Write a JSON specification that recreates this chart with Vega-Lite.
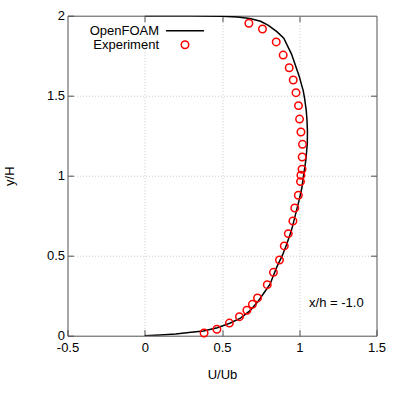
{
  "$schema": "https://vega.github.io/schema/vega-lite/v6.json",
  "autosize": "none",
  "padding": {"left": 67.5, "top": 15.7, "right": 23.5, "bottom": 64.3},
  "width": 309,
  "height": 320,
  "datasets": {
    "foam": [
      {"x": 0.0, "y": 0.0, "series": "OpenFOAM"},
      {"x": 0.1, "y": 0.004, "series": "OpenFOAM"},
      {"x": 0.2, "y": 0.01, "series": "OpenFOAM"},
      {"x": 0.3, "y": 0.021, "series": "OpenFOAM"},
      {"x": 0.38, "y": 0.03, "series": "OpenFOAM"},
      {"x": 0.47, "y": 0.05, "series": "OpenFOAM"},
      {"x": 0.55, "y": 0.078, "series": "OpenFOAM"},
      {"x": 0.62, "y": 0.11, "series": "OpenFOAM"},
      {"x": 0.68, "y": 0.155, "series": "OpenFOAM"},
      {"x": 0.73, "y": 0.21, "series": "OpenFOAM"},
      {"x": 0.77, "y": 0.265, "series": "OpenFOAM"},
      {"x": 0.81, "y": 0.32, "series": "OpenFOAM"},
      {"x": 0.855, "y": 0.43, "series": "OpenFOAM"},
      {"x": 0.89, "y": 0.5, "series": "OpenFOAM"},
      {"x": 0.92, "y": 0.575, "series": "OpenFOAM"},
      {"x": 0.95, "y": 0.66, "series": "OpenFOAM"},
      {"x": 0.975, "y": 0.755, "series": "OpenFOAM"},
      {"x": 1.0, "y": 0.85, "series": "OpenFOAM"},
      {"x": 1.016, "y": 0.92, "series": "OpenFOAM"},
      {"x": 1.028, "y": 1.0, "series": "OpenFOAM"},
      {"x": 1.043, "y": 1.1, "series": "OpenFOAM"},
      {"x": 1.052, "y": 1.2, "series": "OpenFOAM"},
      {"x": 1.053, "y": 1.28, "series": "OpenFOAM"},
      {"x": 1.05, "y": 1.35, "series": "OpenFOAM"},
      {"x": 1.045, "y": 1.41, "series": "OpenFOAM"},
      {"x": 1.035, "y": 1.48, "series": "OpenFOAM"},
      {"x": 1.026, "y": 1.53, "series": "OpenFOAM"},
      {"x": 1.0, "y": 1.62, "series": "OpenFOAM"},
      {"x": 0.975, "y": 1.69, "series": "OpenFOAM"},
      {"x": 0.95, "y": 1.76, "series": "OpenFOAM"},
      {"x": 0.9, "y": 1.86, "series": "OpenFOAM"},
      {"x": 0.855, "y": 1.9, "series": "OpenFOAM"},
      {"x": 0.8, "y": 1.94, "series": "OpenFOAM"},
      {"x": 0.75, "y": 1.965, "series": "OpenFOAM"},
      {"x": 0.68, "y": 1.983, "series": "OpenFOAM"},
      {"x": 0.6, "y": 1.992, "series": "OpenFOAM"},
      {"x": 0.5, "y": 1.997, "series": "OpenFOAM"},
      {"x": 0.3, "y": 1.999, "series": "OpenFOAM"},
      {"x": 0.0, "y": 2.0, "series": "OpenFOAM"}
    ],
    "exp": [
      {"x": 0.384, "y": 0.017, "series": "Experiment"},
      {"x": 0.467, "y": 0.040, "series": "Experiment"},
      {"x": 0.548, "y": 0.079, "series": "Experiment"},
      {"x": 0.613, "y": 0.119, "series": "Experiment"},
      {"x": 0.661, "y": 0.159, "series": "Experiment"},
      {"x": 0.697, "y": 0.196, "series": "Experiment"},
      {"x": 0.730, "y": 0.236, "series": "Experiment"},
      {"x": 0.793, "y": 0.319, "series": "Experiment"},
      {"x": 0.833, "y": 0.396, "series": "Experiment"},
      {"x": 0.872, "y": 0.473, "series": "Experiment"},
      {"x": 0.903, "y": 0.561, "series": "Experiment"},
      {"x": 0.929, "y": 0.638, "series": "Experiment"},
      {"x": 0.959, "y": 0.717, "series": "Experiment"},
      {"x": 0.971, "y": 0.798, "series": "Experiment"},
      {"x": 0.994, "y": 0.878, "series": "Experiment"},
      {"x": 1.008, "y": 0.963, "series": "Experiment"},
      {"x": 1.011, "y": 1.003, "series": "Experiment"},
      {"x": 1.018, "y": 1.040, "series": "Experiment"},
      {"x": 1.019, "y": 1.117, "series": "Experiment"},
      {"x": 1.021, "y": 1.196, "series": "Experiment"},
      {"x": 1.011, "y": 1.273, "series": "Experiment"},
      {"x": 1.002, "y": 1.354, "series": "Experiment"},
      {"x": 0.995, "y": 1.438, "series": "Experiment"},
      {"x": 0.979, "y": 1.519, "series": "Experiment"},
      {"x": 0.961, "y": 1.598, "series": "Experiment"},
      {"x": 0.935, "y": 1.675, "series": "Experiment"},
      {"x": 0.896, "y": 1.754, "series": "Experiment"},
      {"x": 0.851, "y": 1.836, "series": "Experiment"},
      {"x": 0.762, "y": 1.917, "series": "Experiment"},
      {"x": 0.674, "y": 1.953, "series": "Experiment"}
    ]
  },
  "layer": [
    {
      "data": {"name": "foam"},
      "mark": {"type": "line", "strokeWidth": 1.5, "clip": true},
      "encoding": {
        "x": {
          "field": "x", "type": "quantitative",
          "scale": {"domain": [-0.5, 1.5], "nice": false, "zero": false},
          "axis": {
            "values": [-0.5, 0, 0.5, 1, 1.5],
            "labelExpr": "replace(format(datum.value, '~g'), '\u2212', '-')",
            "title": "U/Ub",
            "titlePadding": 14,
            "grid": true,
            "gridColor": {"condition": {"test": "datum.value == -0.5 || datum.value == 1.5", "value": "transparent"}, "value": "#c8c8c8"},
            "labelPadding": 12
          }
        },
        "y": {
          "field": "y", "type": "quantitative",
          "scale": {"domain": [0, 2], "nice": false},
          "axis": {
            "values": [0, 0.5, 1, 1.5, 2],
            "labelExpr": "format(datum.value, '~g')",
            "title": "y/H",
            "titlePadding": 30,
            "grid": true,
            "gridColor": {"condition": {"test": "datum.value == 0 || datum.value == 2", "value": "transparent"}, "value": "#c8c8c8"},
            "labelPadding": 9
          }
        },
        "order": {"field": "y", "type": "quantitative"},
        "color": {
          "field": "series", "type": "nominal",
          "scale": {"domain": ["OpenFOAM", "Experiment"], "range": ["#000000", "#ff0000"]},
          "legend": {
            "title": null,
            "orient": "none",
            "legendX": 111,
            "legendY": 8.5,
            "labelAlign": "right",
            "labelOffset": -32.5,
            "labelFontSize": 13,
            "labelFont": "Liberation Sans",
            "labelColor": "#000000",
            "symbolSize": 56,
            "symbolStrokeWidth": 1.5,
            "symbolOpacity": 1,
            "rowPadding": -1.5
          }
        }
      }
    },
    {
      "data": {"name": "exp"},
      "mark": {"type": "point", "filled": false, "size": 56, "strokeWidth": 1.5, "opacity": 1},
      "encoding": {
        "x": {
          "field": "x", "type": "quantitative",
          "axis": {"orient": "top", "values": [0, 0.5, 1], "labels": false, "title": null, "grid": false, "domain": false}
        },
        "y": {
          "field": "y", "type": "quantitative",
          "axis": {"orient": "right", "values": [0.5, 1, 1.5], "labels": false, "title": null, "grid": false, "domain": false}
        },
        "color": {"field": "series", "type": "nominal"},
        "shape": {
          "field": "series", "type": "nominal",
          "scale": {"domain": ["OpenFOAM", "Experiment"], "range": ["M-5.1,0H5.1", "circle"]}
        }
      }
    },
    {
      "data": {"values": [{}]},
      "mark": {"type": "text", "text": "x/h = -1.0", "fontSize": 13, "font": "Liberation Sans", "color": "#000000", "align": "center", "baseline": "middle"},
      "encoding": {
        "x": {"datum": 1.24, "type": "quantitative", "axis": null},
        "y": {"datum": 0.204, "type": "quantitative", "axis": null}
      }
    }
  ],
  "resolve": {"axis": {"x": "independent", "y": "independent"}},
  "config": {
    "view": {"stroke": "#505050", "strokeWidth": 1},
    "axis": {
      "domain": false,
      "tickSize": -6,
      "tickColor": "#505050",
      "tickWidth": 1,
      "labelFlush": false,
      "labelOverlap": false,
      "labelFont": "Liberation Sans",
      "labelFontSize": 13,
      "labelColor": "#000000",
      "titleFont": "Liberation Sans",
      "titleFontSize": 13,
      "titleFontWeight": "normal",
      "titleColor": "#000000",
      "gridDash": [1, 2],
      "gridWidth": 1
    }
  }
}
